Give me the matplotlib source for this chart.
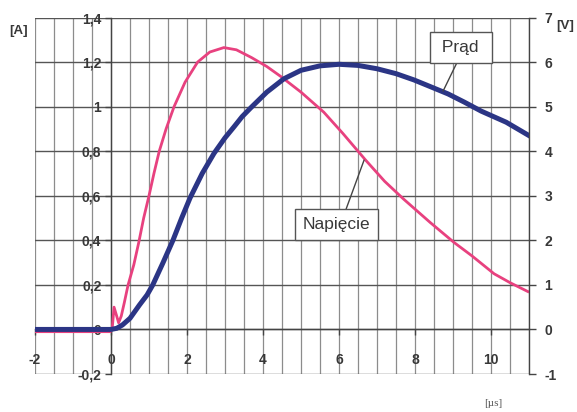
import matplotlib
matplotlib.use('Agg')
import matplotlib.pyplot as plt
from matplotlib.ticker import MultipleLocator

plt.rcParams['font.family'] = ['Liberation Sans', 'DejaVu Sans']

# ---- data ----
prad_t = [-2, -1, 0, 0.15, 0.3, 0.5, 0.75, 0.95, 1.1, 1.37, 1.63, 1.86, 2.08, 2.4,
          2.71, 3.0, 3.24, 3.45, 3.68, 4.1, 4.55, 5.0, 5.5, 6.0, 6.5, 7.0, 7.5,
          7.97, 8.4, 8.87, 9.3, 9.74, 10.4, 11.0]
prad_a = [0, 0, 0, 0.005, 0.02, 0.05, 0.11, 0.155, 0.2, 0.3, 0.4, 0.5, 0.59, 0.7,
          0.79, 0.86, 0.91, 0.955, 0.995, 1.065, 1.125, 1.163, 1.183, 1.19, 1.185,
          1.17, 1.148, 1.12, 1.09, 1.057, 1.02, 0.98, 0.93, 0.87]

nap_t = [-2, -0.5, -0.02, 0.03, 0.08, 0.15, 0.2, 0.27, 0.35, 0.45, 0.6, 0.73,
         0.86, 1.0, 1.13, 1.27, 1.45, 1.66, 1.95, 2.28, 2.6, 2.97, 3.3, 3.7, 4.1,
         4.47, 5.0, 5.6, 6.1, 6.7, 7.2, 7.7, 8.4, 9.03, 9.5, 10.08, 10.5, 10.97]
nap_a = [-0.01, -0.01, -0.01, 0.0, 0.1, 0.06, 0.03, 0.06, 0.12, 0.2, 0.29, 0.39,
         0.5, 0.6, 0.7, 0.8, 0.9, 1.0, 1.11, 1.2, 1.245, 1.265, 1.255, 1.22, 1.18,
         1.135, 1.065, 0.975, 0.88, 0.76, 0.665, 0.585, 0.48, 0.39, 0.33, 0.25,
         0.21, 0.17]

x_ticks = [-2, 0, 2, 4, 6, 8, 10]
y_ticks_a = [-0.2, 0, 0.2, 0.4, 0.6, 0.8, 1.0, 1.2, 1.4]
y_labels_a = ['-0,2', '0', '0,2', '0,4', '0,6', '0,8', '1', '1,2', '1,4']
y_ticks_v = [-1, 0, 1, 2, 3, 4, 5, 6, 7]

BLUE = '#2b3585'
PINK = '#e8417f'
TXT = '#383838'
TS = 10

fig = plt.figure(figsize=(5.77, 4.12), dpi=100)
ax = fig.add_axes([35/577, 1-374/412, 494/577, 356.5/412])
ax.set_xlim(-2, 11)
ax.set_ylim(-0.2, 1.4)

# grid
ax.xaxis.set_minor_locator(MultipleLocator(0.5))
ax.set_xticks(x_ticks)
ax.set_xticklabels([str(v) for v in x_ticks])
ax.set_yticks(y_ticks_a)
ax.set_yticklabels(y_labels_a)
ax.grid(which='both', axis='x', color='#8c8c8c', lw=0.9, zorder=0)
ax.grid(which='major', axis='y', color='#555555', lw=1.0, zorder=0)
ax.set_axisbelow(True)

# spines
ax.spines['left'].set_position(('data', 0))
ax.spines['bottom'].set_position(('data', 0))
ax.spines['top'].set_visible(False)
ax.spines['right'].set_visible(False)
for s in ('left', 'bottom'):
    ax.spines[s].set_color('#444444')
    ax.spines[s].set_linewidth(1.0)

ax.tick_params(axis='x', which='major', direction='out', length=4, width=1,
               color='#444444', pad=13, labelsize=TS, labelcolor=TXT)
ax.tick_params(axis='x', which='minor', length=0)
ax.tick_params(axis='y', direction='out', length=4, width=1, color='#444444',
               pad=3, labelsize=TS, labelcolor=TXT)
for lab in ax.get_xticklabels() + ax.get_yticklabels():
    lab.set_fontweight('bold')

# curves
ax.plot(nap_t, nap_a, color=PINK, lw=2.0, zorder=3, solid_joinstyle='round')
ax.plot(prad_t, prad_a, color=BLUE, lw=3.6, zorder=4, solid_joinstyle='round')

# right axis (V)
ax2 = ax.twinx()
ax2.set_ylim(-1, 7)
ax2.set_yticks(y_ticks_v)
ax2.set_yticklabels([str(v) for v in y_ticks_v])
for s in ('left', 'top', 'bottom'):
    ax2.spines[s].set_visible(False)
ax2.spines['right'].set_color('#444444')
ax2.spines['right'].set_linewidth(1.0)
ax2.tick_params(axis='y', direction='out', length=5, width=1, color='#444444',
                pad=6, labelsize=TS, labelcolor=TXT)
for lab in ax2.get_yticklabels():
    lab.set_fontweight('bold')

# annotations
ax.annotate(' Prąd ', xy=(8.74, 1.07), xytext=(9.2, 1.265), ha='center', va='center',
            fontsize=12.5, color=TXT, zorder=6,
            bbox=dict(boxstyle='square,pad=0.45', fc='white', ec='#555555', lw=1.0),
            arrowprops=dict(arrowstyle='-', color='#444444', lw=1.0,
                            relpos=(0.5, 0), shrinkA=0, shrinkB=0))
ax.annotate('Napięcie', xy=(6.66, 0.76), xytext=(5.93, 0.47), ha='center', va='center',
            fontsize=12.5, color=TXT, zorder=6,
            bbox=dict(boxstyle='square,pad=0.45', fc='white', ec='#555555', lw=1.0),
            arrowprops=dict(arrowstyle='-', color='#444444', lw=1.0,
                            relpos=(0.6, 1), shrinkA=0, shrinkB=0))

# unit labels
fig.text(19/577, 1-31/412, '[A]', ha='center', va='center', fontsize=9.5,
         color=TXT, fontweight='bold')
fig.text(565/577, 1-26/412, '[V]', ha='center', va='center', fontsize=9.5,
         color=TXT, fontweight='bold')
fig.text(493/577, 1-403/412, '[µs]', ha='center', va='center', fontsize=8,
         color='#555555', family=['Liberation Serif', 'DejaVu Serif'])

fig.savefig('out.png', dpi=100)
